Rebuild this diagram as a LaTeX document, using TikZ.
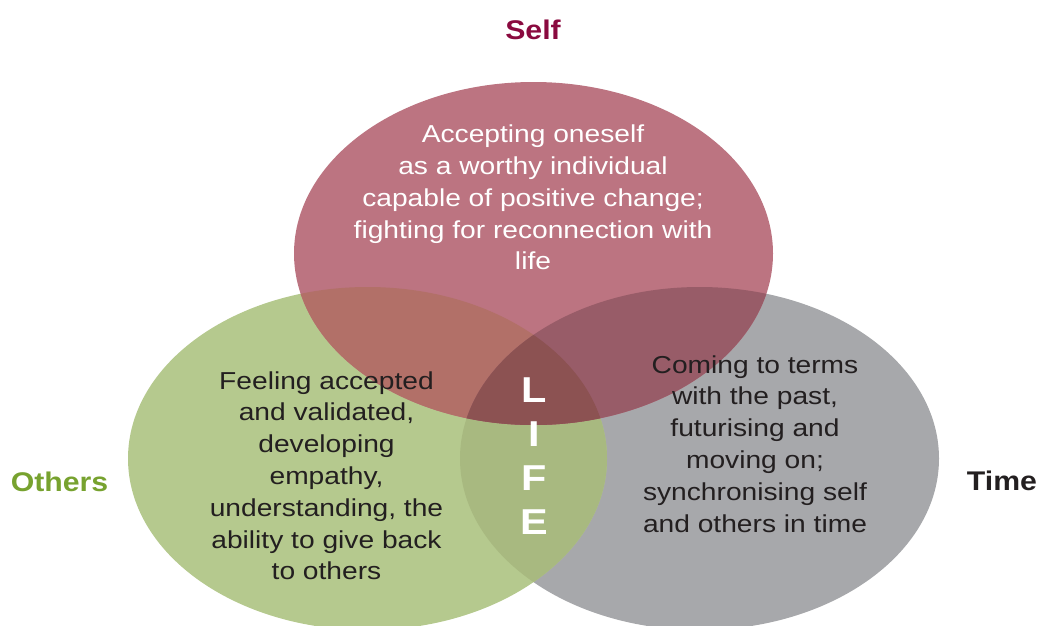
\documentclass[tikz,border=0pt]{standalone}
\usepackage{fontspec}
\setmainfont{Liberation Sans}[FakeStretch=1.12]
\newfontfamily\bodyfont{Liberation Sans}[FakeStretch=1.15]
\definecolor{selfC}{HTML}{BC7481}
\definecolor{othC}{HTML}{B5C98E}
\definecolor{timeC}{HTML}{A7A8AB}
\definecolor{soC}{HTML}{B27068}
\definecolor{stC}{HTML}{985C68}
\definecolor{otC}{HTML}{A8B980}
\definecolor{allC}{HTML}{8C5252}
\definecolor{selfL}{HTML}{8A0A3F}
\definecolor{othL}{HTML}{77A22F}
\definecolor{darkT}{HTML}{231F20}
\tikzset{
  body/.style={align=center, inner sep=0pt, anchor=base, font=\bodyfont\fontsize{24.5}{31.8}\selectfont},
  label/.style={inner sep=0pt, anchor=base, font=\fontsize{27}{30}\selectfont\bfseries},
  lifeletter/.style={inner sep=0pt, anchor=base, text=white, font=\bodyfont\fontsize{36}{40}\selectfont\bfseries}
}
\def\selfE{(533.5,253.5) ellipse [x radius=239.5pt, y radius=171.5pt]}
\def\othE{(367.5,458.5) ellipse [x radius=239.5pt, y radius=171.5pt]}
\def\timeE{(699.5,458.5) ellipse [x radius=239.5pt, y radius=171.5pt]}
\begin{document}
\begin{tikzpicture}[x=1pt,y=-1pt]
\useasboundingbox (0,0) rectangle (1038,625);
\begin{scope}
\clip (0,0) rectangle (1038,625);
\fill[timeC] \timeE;
\fill[othC] \othE;
\fill[selfC] \selfE;
\begin{scope}
  \clip \othE;
  \fill[otC] \timeE;
\end{scope}
\begin{scope}
  \clip \selfE;
  \fill[soC] \othE;
  \fill[stC] \timeE;
  \clip \othE;
  \fill[allC] \timeE;
\end{scope}
\end{scope}
\node[label, text=selfL] (lself) at (533,39) {Self};
\node[label, text=othL] (lothers) at (59.5,491.5) {Others};
\node[label, text=darkT] (ltime) at (1002,490.5) {Time};
\node[body, text=white] (tself) at (533,269.9) {Accepting oneself\\as a worthy individual\\capable of positive change;\\fighting for reconnection with\\life};
\node[body, text=darkT] (tothers) at (326.5,579.8) {Feeling accepted\\and validated,\\developing\\empathy,\\understanding, the\\ability to give back\\to others};
\node[body, text=darkT] (ttime) at (755,532) {Coming to terms\\with the past,\\futurising and\\moving on;\\synchronising self\\and others in time};
\node[lifeletter] (l1) at (534,402) {L};
\node[lifeletter] (l2) at (534,446) {I};
\node[lifeletter] (l3) at (534,490) {F};
\node[lifeletter] (l4) at (534,534) {E};
\end{tikzpicture}
\end{document}
